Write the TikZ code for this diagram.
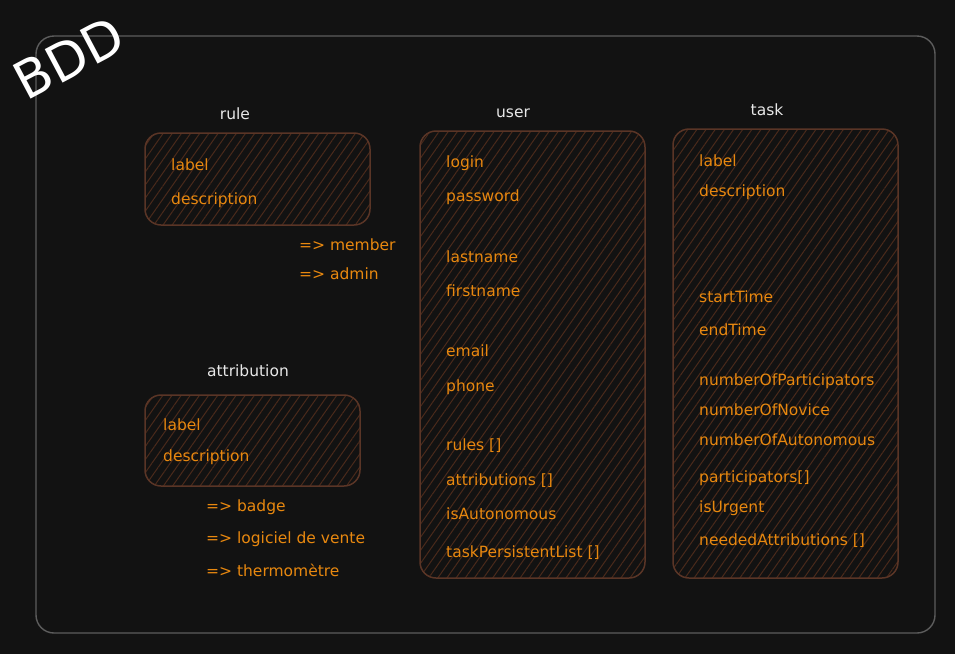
\documentclass[tikz,border=0pt]{standalone}
\usepackage{fontspec}
\setmainfont{DejaVu Sans}
\usetikzlibrary{patterns.meta}
\definecolor{canvas}{HTML}{121212}
\definecolor{framegray}{HTML}{5C5C5C}
\definecolor{fieldorange}{HTML}{E8880F}
\definecolor{boxbrown}{HTML}{5A3526}
\definecolor{hatchbrown}{HTML}{4A2A1B}
\definecolor{titlewhite}{HTML}{E8E8E8}
\tikzset{
  table/.style={draw=boxbrown, line width=1.5pt, rounded corners=16pt,
    pattern={Lines[angle=55,distance=7.5pt,line width=1pt]},
    pattern color=hatchbrown},
  field/.style={anchor=base west, inner sep=0pt, text=fieldorange,
    font=\fontsize{15.5}{17}\selectfont},
  heading/.style={anchor=base, inner sep=0pt, text=titlewhite,
    font=\fontsize{15.5}{17}\selectfont}
}

\begin{document}
\begin{tikzpicture}[x=1pt,y=-1pt]
\fill[canvas] (0,0) rectangle (955,654);
\useasboundingbox (0,0) rectangle (955,654);

% outer frame
\draw[framegray, line width=1.4pt, rounded corners=18pt]
  (36,36) rectangle (935,633);
\node[rotate=28, inner sep=0pt, text=white,
  font=\fontsize{52}{52}\selectfont] (bdd) at (69,58) {BDD};

% tables
\path[table] (145,133) rectangle (370,225);
\path[table] (145,395) rectangle (360,486);
\path[table] (420,131) rectangle (645,578);
\path[table] (673,129) rectangle (898,578);

\node[heading] (rule) at (235,119) {rule};
\node[heading] (attribution) at (248,376) {attribution};
\node[heading] (user) at (513,117) {user};
\node[heading] (task) at (767,115) {task};

% rule
\foreach \name/\y/\txt in {a/170/label, b/204/description}
  \node[field] (rule-\name) at (171,\y) {\txt};
\foreach \name/\y/\txt in {c/250/{=> member}, d/279/{=> admin}}
  \node[field] (rule-\name) at (299,\y) {\txt};

% attribution
\foreach \name/\y/\txt in {a/430/label, b/461/description}
  \node[field] (attribution-\name) at (163,\y) {\txt};
\foreach \name/\y/\txt in {c/511/{=> badge}, d/543/{=> logiciel de vente},
    e/576/{=> thermomètre}}
  \node[field] (attribution-\name) at (206,\y) {\txt};

% user
\foreach \name/\y/\txt in {a/167/login, b/201/password, c/262/lastname,
    d/296/firstname, e/356/email, f/391/phone, g/450/{rules []},
    h/485/{attributions []}, i/519/isAutonomous,
    j/557/{taskPersistentList []}}
  \node[field] (user-\name) at (446,\y) {\txt};

% task
\foreach \name/\y/\txt in {a/166/label, b/196/description, c/302/startTime,
    d/335/endTime, e/385/numberOfParticipators, f/415/numberOfNovice,
    g/445/numberOfAutonomous, h/482/{participators[]}, i/512/isUrgent,
    j/545/{neededAttributions []}}
  \node[field] (task-\name) at (699,\y) {\txt};
\end{tikzpicture}
\end{document}
